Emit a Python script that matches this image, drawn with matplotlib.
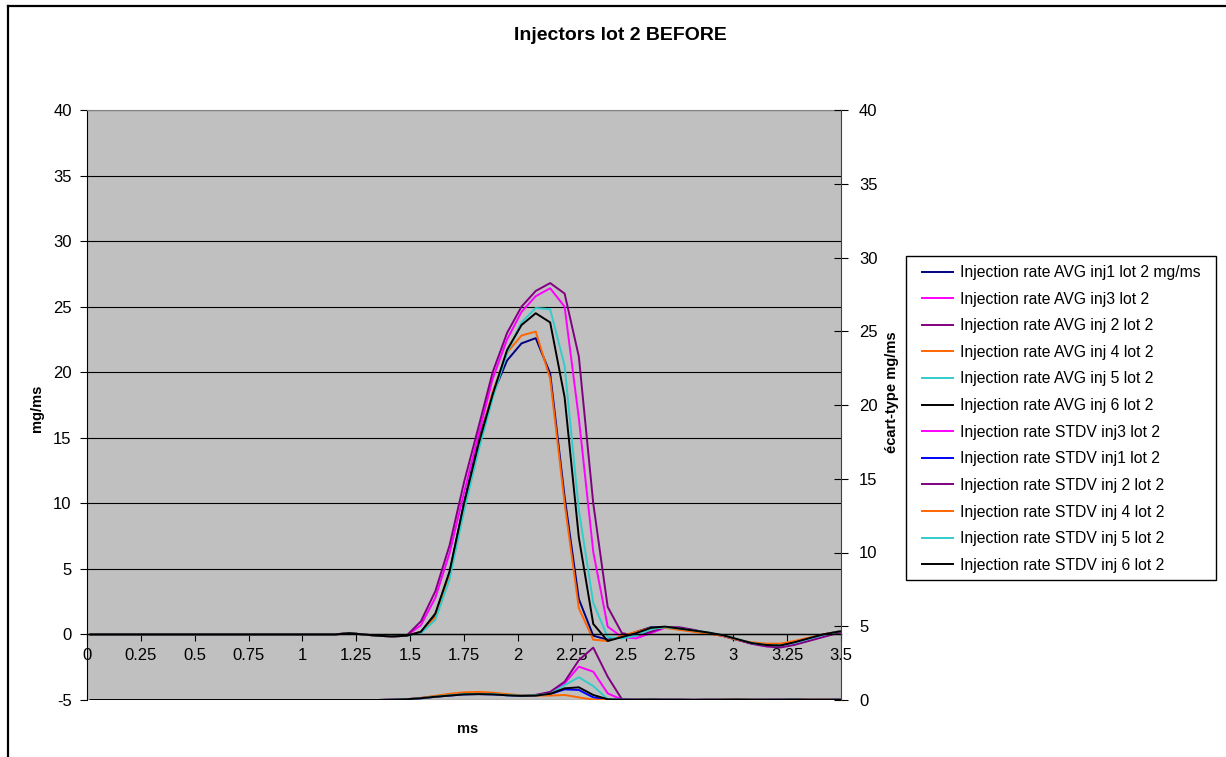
import numpy as np
import matplotlib
matplotlib.use("Agg")
import matplotlib.pyplot as plt
from matplotlib.lines import Line2D
from matplotlib.patches import Rectangle

plt.rcParams['font.family'] = ['Liberation Sans', 'DejaVu Sans']
plt.rcParams['axes.unicode_minus'] = False

# time axis (ms)
t = [0.017, 0.083, 0.150, 0.217, 0.283, 0.350, 0.417, 0.483, 0.550, 0.617,
     0.683, 0.750, 0.817, 0.883, 0.950, 1.017, 1.083, 1.150, 1.217, 1.283,
     1.350, 1.417, 1.483, 1.550, 1.617, 1.683, 1.750, 1.817, 1.883, 1.950,
     2.017, 2.083, 2.150, 2.217, 2.283, 2.350, 2.417, 2.483, 2.550, 2.617,
     2.683, 2.750, 2.817, 2.883, 2.950, 3.017, 3.083, 3.150, 3.217, 3.283,
     3.350, 3.417, 3.483, 3.550]

z18 = [0.0] * 18

# AVG injection rate (mg/ms), left axis
avg_inj1 = z18 + [0.1, 0.0, -0.1, -0.15, -0.1, 0.2, 1.5, 4.7, 10.0, 14.8, 18.3, 20.9,
                  22.2, 22.6, 19.9, 10.5, 2.7, -0.1, -0.4, -0.2, 0.2, 0.55, 0.55, 0.4,
                  0.25, 0.1, -0.1, -0.4, -0.65, -0.8, -0.8, -0.6, -0.3, 0.0, 0.2, 0.35]
avg_inj3 = z18 + [0.1, 0.0, -0.1, -0.15, -0.1, 0.7, 2.8, 6.2, 10.8, 15.2, 19.5, 22.5,
                  24.6, 25.8, 26.4, 25.0, 16.5, 6.3, 0.6, -0.2, -0.3, 0.1, 0.5, 0.5,
                  0.3, 0.1, -0.1, -0.4, -0.7, -0.9, -0.95, -0.75, -0.45, -0.15, 0.1, 0.3]
avg_inj2 = z18 + [0.1, 0.0, -0.1, -0.15, -0.1, 1.0, 3.3, 6.8, 11.6, 15.8, 20.0, 23.0,
                  25.0, 26.2, 26.8, 26.0, 21.2, 10.0, 2.1, 0.1, -0.1, 0.2, 0.55, 0.55,
                  0.35, 0.1, -0.1, -0.4, -0.7, -0.9, -1.0, -0.8, -0.5, -0.2, 0.1, 0.3]
avg_inj4 = z18 + [0.1, 0.0, -0.1, -0.15, -0.1, 0.2, 1.3, 4.5, 9.8, 14.5, 18.5, 21.5,
                  22.8, 23.1, 19.5, 10.0, 2.0, -0.4, -0.5, -0.1, 0.2, 0.5, 0.5, 0.35,
                  0.2, 0.05, -0.1, -0.4, -0.6, -0.7, -0.7, -0.5, -0.25, 0.0, 0.2, 0.35]
avg_inj5 = z18 + [0.1, 0.0, -0.1, -0.15, -0.1, 0.1, 1.1, 4.2, 9.4, 14.0, 18.0, 21.5,
                  23.8, 24.9, 24.8, 20.5, 9.5, 2.4, -0.2, -0.3, -0.1, 0.4, 0.55, 0.45,
                  0.3, 0.15, -0.05, -0.35, -0.65, -0.8, -0.85, -0.65, -0.35, -0.05, 0.2, 0.35]
avg_inj6 = z18 + [0.1, 0.0, -0.1, -0.15, -0.1, 0.2, 1.6, 4.8, 10.0, 14.5, 18.3, 21.7,
                  23.6, 24.5, 23.8, 18.1, 7.4, 0.8, -0.5, -0.2, 0.1, 0.5, 0.6, 0.45,
                  0.3, 0.15, -0.05, -0.35, -0.65, -0.8, -0.85, -0.6, -0.3, 0.0, 0.2, 0.35]

# STDV (mg/ms), right axis
std_inj3 = z18 + [0.0, 0.0, 0.0, 0.02, 0.05, 0.12, 0.22, 0.32, 0.42, 0.45, 0.42, 0.35,
                  0.3, 0.32, 0.45, 1.13, 2.26, 1.92, 0.45, 0.03, 0.02, 0.03, 0.02, 0.02,
                  0.01, 0.02, 0.02, 0.03, 0.02, 0.02, 0.02, 0.03, 0.02, 0.02, 0.02, 0.02]
std_inj1 = z18 + [0.0, 0.0, 0.0, 0.02, 0.05, 0.12, 0.22, 0.3, 0.38, 0.4, 0.38, 0.32,
                  0.28, 0.3, 0.4, 0.72, 0.68, 0.18, 0.02, 0.02, 0.02, 0.03, 0.02, 0.02,
                  0.01, 0.02, 0.02, 0.03, 0.02, 0.02, 0.02, 0.03, 0.02, 0.02, 0.02, 0.02]
std_inj2 = z18 + [0.0, 0.0, 0.0, 0.02, 0.05, 0.14, 0.25, 0.35, 0.42, 0.45, 0.42, 0.35,
                  0.3, 0.35, 0.55, 1.24, 2.7, 3.55, 1.58, 0.05, 0.03, 0.03, 0.02, 0.02,
                  0.01, 0.02, 0.02, 0.03, 0.02, 0.02, 0.02, 0.03, 0.02, 0.02, 0.02, 0.02]
std_inj4 = z18 + [0.0, 0.0, 0.0, 0.02, 0.05, 0.14, 0.28, 0.42, 0.52, 0.55, 0.5, 0.4,
                  0.32, 0.3, 0.3, 0.34, 0.18, 0.02, 0.0, 0.0, 0.02, 0.03, 0.02, 0.02,
                  0.01, 0.02, 0.03, 0.04, 0.03, 0.02, 0.02, 0.03, 0.04, 0.03, 0.02, 0.02]
std_inj5 = z18 + [0.0, 0.0, 0.0, 0.02, 0.05, 0.12, 0.22, 0.32, 0.4, 0.42, 0.4, 0.33,
                  0.3, 0.32, 0.42, 1.0, 1.54, 0.95, 0.05, 0.02, 0.02, 0.03, 0.02, 0.02,
                  0.01, 0.02, 0.02, 0.03, 0.02, 0.02, 0.02, 0.03, 0.02, 0.02, 0.02, 0.02]
std_inj6 = z18 + [0.0, 0.0, 0.0, 0.02, 0.05, 0.12, 0.22, 0.3, 0.38, 0.4, 0.38, 0.32,
                  0.28, 0.3, 0.42, 0.79, 0.86, 0.34, 0.05, 0.02, 0.02, 0.03, 0.02, 0.02,
                  0.01, 0.02, 0.02, 0.03, 0.02, 0.02, 0.02, 0.03, 0.02, 0.02, 0.02, 0.02]

avg_series = [
    (avg_inj1, '#000080', 'Injection rate AVG inj1 lot 2 mg/ms'),
    (avg_inj3, '#FF00FF', 'Injection rate AVG inj3 lot 2'),
    (avg_inj2, '#800080', 'Injection rate AVG inj 2 lot 2'),
    (avg_inj4, '#FF6600', 'Injection rate AVG inj 4 lot 2'),
    (avg_inj5, '#33CCCC', 'Injection rate AVG inj 5 lot 2'),
    (avg_inj6, '#000000', 'Injection rate AVG inj 6 lot 2'),
]
std_series = [
    (std_inj3, '#FF00FF', 'Injection rate STDV inj3 lot 2'),
    (std_inj1, '#0000FF', 'Injection rate STDV inj1 lot 2'),
    (std_inj2, '#800080', 'Injection rate STDV inj 2 lot 2'),
    (std_inj4, '#FF6600', 'Injection rate STDV inj 4 lot 2'),
    (std_inj5, '#33CCCC', 'Injection rate STDV inj 5 lot 2'),
    (std_inj6, '#000000', 'Injection rate STDV inj 6 lot 2'),
]

W, H = 1226, 757
fig = plt.figure(figsize=(W / 100, H / 100), dpi=100)
L, R, T, B = 87, 841, 110, 700
ax1 = fig.add_axes([L / W, 1 - B / H, (R - L) / W, (B - T) / H])
ax1.set_facecolor('#C0C0C0')

ax1.set_xlim(0, 3.5)
ax1.set_ylim(-5, 40)
ax1.set_yticks(np.arange(-5, 41, 5))
ax1.set_xticks(np.arange(0, 3.51, 0.25))
ax1.set_xticklabels(['0', '0.25', '0.5', '0.75', '1', '1.25', '1.5', '1.75',
                     '2', '2.25', '2.5', '2.75', '3', '3.25', '3.5'])
ax1.grid(axis='y', color='black', linewidth=0.8)
ax1.set_axisbelow(True)
ax1.spines['bottom'].set_position(('data', 0))
ax1.spines['bottom'].set_linewidth(1.0)
ax1.spines['top'].set_color('#808080')
ax1.spines['right'].set_visible(False)
ax1.tick_params(axis='x', direction='out', length=5, pad=5, labelsize=12)
ax1.tick_params(axis='y', direction='out', length=5, pad=6, labelsize=12)

handles = []
for vals, col, lab in avg_series:
    h, = ax1.plot(t, vals, color=col, linewidth=1.4, label=lab)
    handles.append(h)

ax2 = ax1.twinx()
ax2.set_ylim(0, 40)
ax2.set_yticks(np.arange(0, 41, 5))
ax2.tick_params(axis='y', direction='inout', length=10, pad=8, labelsize=12)
for s in ['top', 'left', 'bottom']:
    ax2.spines[s].set_visible(False)
ax2.spines['right'].set_color('#404040')
for vals, col, lab in std_series:
    h, = ax2.plot(t, vals, color=col, linewidth=1.4, label=lab)
    handles.append(h)
ax2.set_xlim(0, 3.5)

fig.text(620 / W, 1 - 35 / H, 'Injectors lot 2 BEFORE', ha='center', va='center',
         fontsize=14, fontweight='bold')
fig.text(468 / W, 1 - 729 / H, 'ms', ha='center', va='center',
         fontsize=10.5, fontweight='bold')
fig.text(37 / W, 1 - 408 / H, 'mg/ms', ha='center', va='center', rotation=90,
         fontsize=10.5, fontweight='bold')
fig.text(892 / W, 1 - 392 / H, 'écart-type mg/ms', ha='center', va='center', rotation=90,
         fontsize=10.5, fontweight='bold')

# legend box drawn separately to match the wide frame
fig.add_artist(Rectangle((906 / W, 1 - 580 / H), (1216 - 906) / W, (580 - 256) / H,
                         transform=fig.transFigure, facecolor='white',
                         edgecolor='black', linewidth=1.0))
leg = fig.legend(handles=handles, loc='upper left',
                 bbox_to_anchor=(922 / W, 1 - 265 / H), borderaxespad=0,
                 fontsize=11.3, frameon=False, borderpad=0,
                 handlelength=2.0, handletextpad=0.4, labelspacing=0.74)

# chart border (left and top edges visible)
fig.add_artist(Line2D([8 / W, 8 / W], [0, 1 - 6 / H], transform=fig.transFigure,
                      color='black', linewidth=1.6))
fig.add_artist(Line2D([8 / W, 1], [1 - 6 / H, 1 - 6 / H], transform=fig.transFigure,
                      color='black', linewidth=1.6))

fig.savefig('out.png', dpi=100)
